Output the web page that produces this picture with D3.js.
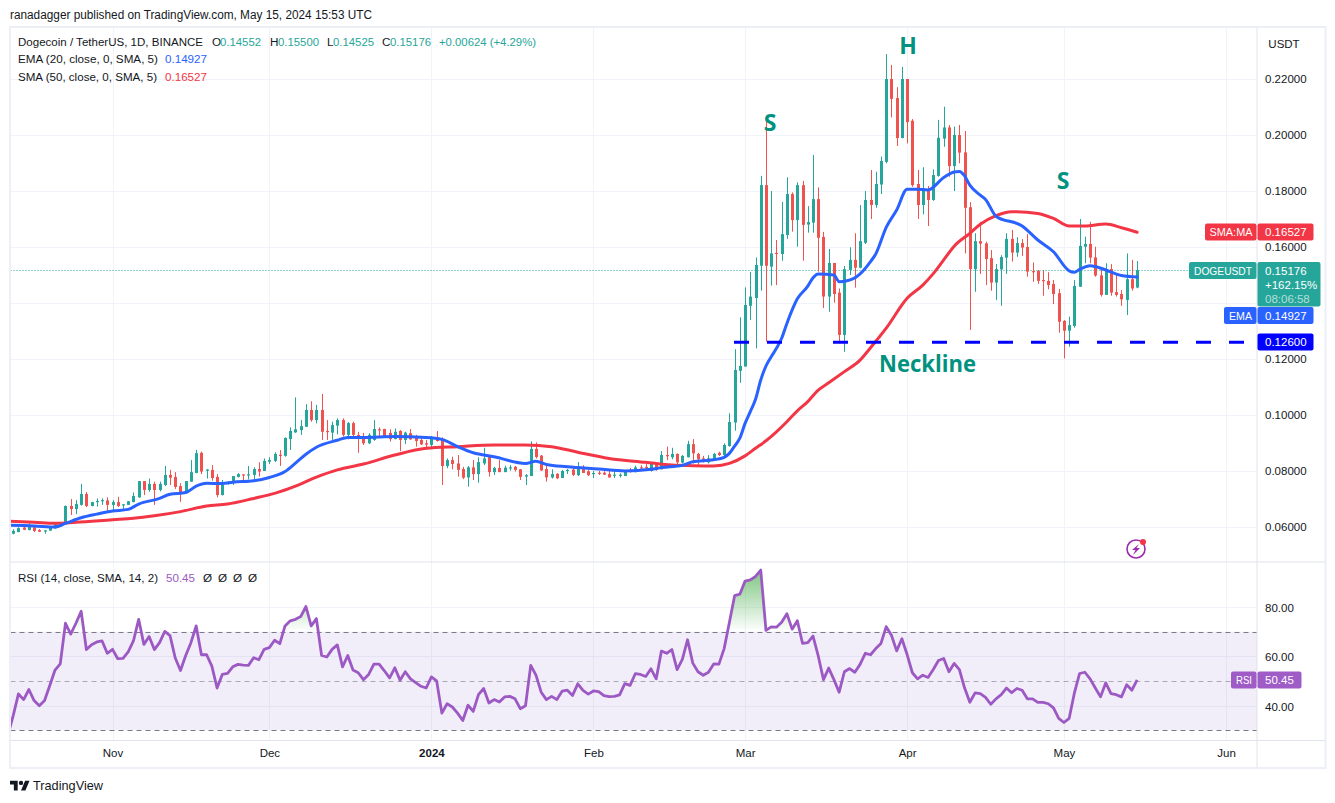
<!DOCTYPE html>
<html>
<head>
<meta charset="utf-8">
<script src="https://cdn.jsdelivr.net/npm/d3@7/dist/d3.min.js"></script>
<style>
html,body{margin:0;padding:0;background:#fff;overflow:hidden}
svg{display:block}
text{font-family:"Liberation Sans",Arial,sans-serif}
</style>
</head>
<body>
<svg id="c" width="1335" height="803"></svg>
<script>
const firstDay = "2023-10-13";
const open = [.0576,.0582,.0598,.0589,.0599,.0589,.0587,.0587,.0595,.0601,.0615,.0675,.0664,.0679,.0718,.0675,.0690,.0694,.0695,.0679,.0689,.0679,.0679,.0689,.0706,.0764,.0732,.0754,.0732,.0750,.0786,.0779,.0746,.0723,.0762,.0793,.0865,.0802,.0804,.0779,.0714,.0754,.0761,.0779,.0788,.0786,.0786,.0807,.0800,.0833,.0836,.0858,.0854,.0914,.0938,.0946,.0958,.1018,.0982,.1018,.0943,.0937,.0962,.0982,.0929,.0971,.0929,
.0923,.0899,.0911,.0949,.0950,.0936,.0914,.0943,.0911,.0935,.0919,.0911,.0899,.0893,.0920,.0911,.0818,.0839,.0827,.0807,.0777,.0813,.0789,.0827,.0851,.0796,.0811,.0796,.0811,.0815,.0806,.0780,.0782,.0879,.0855,.0807,.0777,.0790,.0775,.0801,.0805,.0785,.0812,.0799,.0789,.0794,.0794,.0789,.0785,.0785,.0782,.0804,.0796,.0813,.0815,.0800,.0824,.0806,.0857,.0849,.0861,.0830,.0849,.0896,.0861,.0845,.0831,.0842,.0865,.0857,.0889,
.0973,.1158,.1173,.1390,.1418,.1533,.1821,.1530,.1579,.1575,.1643,.1789,.1696,.1821,.1680,.1687,.1771,.1636,.1423,.1543,.1437,.1286,.1518,.1554,.1526,.1615,.1768,.1750,.1823,.1904,.2200,.2132,.1989,.2200,.2051,.1825,.1750,.1804,.1768,.1854,.1987,.2027,.1889,.2000,.1938,.1742,.1521,.1621,.1613,.1560,.1473,.1520,.1562,.1629,.1580,.1614,.1600,.1514,.1514,.1482,.1479,.1468,.1435,.1336,.1301,.1318,.1458,.1601,.1611,.1563,.1499,.1429,.1521,.1439,.1432,.1411,.1485,.14552];
const high = [.0592,.0599,.0601,.0618,.0604,.0593,.0589,.0601,.0613,.0615,.0677,.0700,.0696,.0754,.0725,.0690,.0702,.0702,.0706,.0696,.0708,.0682,.0693,.0723,.0764,.0764,.0773,.0762,.0762,.0818,.0804,.0796,.0756,.0764,.0839,.0875,.0869,.0807,.0821,.0789,.0768,.0762,.0782,.0792,.0788,.0818,.0813,.0831,.0845,.0849,.0867,.0875,.0920,.0956,.1063,.0982,.1039,.1049,.1036,.1075,.0982,.0976,.0988,.0988,.0975,.0976,.0940,
.0936,.0935,.0982,.0956,.0951,.0949,.0952,.0946,.0940,.0950,.0929,.0917,.0911,.0925,.0943,.0920,.0845,.0851,.0857,.0815,.0818,.0839,.0849,.0883,.0854,.0815,.0839,.0819,.0821,.0818,.0807,.0789,.0906,.0902,.0857,.0818,.0806,.0792,.0804,.0807,.0812,.0832,.0821,.0804,.0800,.0800,.0799,.0800,.0804,.0792,.0804,.0811,.0819,.0821,.0835,.0830,.0827,.0871,.0887,.0883,.0863,.0857,.0908,.0914,.0865,.0854,.0857,.0865,.0869,.0899,.1006,
.1235,.1349,.1456,.1511,.1563,.1854,.2065,.1800,.1625,.1761,.1849,.1795,.1831,.1836,.1746,.1929,.1813,.1654,.1593,.1543,.1452,.1532,.1599,.1649,.1750,.1800,.1875,.1869,.1923,.2289,.2250,.2171,.2243,.2200,.2057,.1875,.1885,.1818,.1877,.2054,.2101,.2036,.2030,.2036,.2014,.1760,.1649,.1690,.1619,.1589,.1539,.1571,.1649,.1661,.1635,.1628,.1646,.1545,.1518,.1518,.1510,.1482,.1450,.1339,.1351,.1482,.1700,.1637,.1690,.1601,.1524,.1542,.1539,.1506,.1446,.1577,.1554,.1550];
const low = [.0574,.0581,.0589,.0588,.0582,.0582,.0576,.0586,.0594,.0600,.0613,.0643,.0646,.0677,.0671,.0674,.0673,.0679,.0658,.0655,.0671,.0663,.0679,.0688,.0704,.0714,.0726,.0679,.0727,.0746,.0750,.0736,.0690,.0720,.0761,.0792,.0789,.0773,.0765,.0706,.0713,.0751,.0750,.0777,.0758,.0770,.0768,.0780,.0800,.0825,.0832,.0818,.0851,.0875,.0936,.0929,.0957,.0976,.0970,.0911,.0911,.0911,.0931,.0923,.0913,.0923,.0865,
.0893,.0896,.0908,.0923,.0920,.0905,.0913,.0871,.0896,.0911,.0887,.0893,.0877,.0881,.0905,.0750,.0810,.0806,.0780,.0771,.0744,.0768,.0758,.0821,.0780,.0786,.0796,.0796,.0801,.0798,.0768,.0750,.0782,.0845,.0800,.0762,.0773,.0771,.0775,.0789,.0782,.0782,.0793,.0782,.0775,.0786,.0786,.0777,.0775,.0777,.0782,.0794,.0795,.0801,.0804,.0798,.0801,.0806,.0839,.0842,.0821,.0827,.0849,.0827,.0821,.0830,.0827,.0837,.0854,.0851,.0887,
.0944,.1115,.1173,.1339,.1238,.1444,.1262,.1462,.1464,.1551,.1629,.1655,.1601,.1551,.1651,.1651,.1512,.1382,.1369,.1401,.1256,.1226,.1500,.1455,.1524,.1611,.1700,.1740,.1789,.1899,.2063,.1961,.1989,.1970,.1815,.1700,.1717,.1675,.1765,.1851,.1958,.1851,.1800,.1899,.1577,.1304,.1440,.1504,.1464,.1444,.1411,.1390,.1504,.1548,.1565,.1568,.1494,.1476,.1468,.1426,.1449,.1396,.1294,.1202,.1244,.1312,.1458,.1542,.1542,.1494,.1423,.1429,.1426,.1423,.1390,.1357,.1444,.14525];
const close = [.0586,.0596,.0590,.0604,.0586,.0583,.0588,.0600,.0610,.0613,.0675,.0664,.0682,.0718,.0675,.0689,.0693,.0696,.0679,.0689,.0675,.0681,.0692,.0711,.0764,.0732,.0754,.0732,.0754,.0786,.0776,.0743,.0720,.0764,.0796,.0864,.0798,.0805,.0775,.0714,.0750,.0761,.0782,.0789,.0787,.0788,.0807,.0798,.0836,.0839,.0861,.0854,.0918,.0943,.0949,.0960,.1018,.0982,.1018,.0940,.0940,.0964,.0982,.0929,.0971,.0929,.0917,
.0899,.0929,.0950,.0946,.0925,.0914,.0940,.0911,.0937,.0913,.0907,.0895,.0894,.0920,.0907,.0818,.0839,.0825,.0804,.0776,.0813,.0789,.0832,.0845,.0796,.0811,.0796,.0812,.0813,.0804,.0779,.0785,.0879,.0850,.0802,.0777,.0789,.0774,.0800,.0804,.0786,.0815,.0793,.0785,.0793,.0792,.0787,.0777,.0787,.0787,.0801,.0801,.0813,.0810,.0812,.0825,.0804,.0857,.0855,.0861,.0831,.0854,.0896,.0863,.0842,.0833,.0845,.0861,.0857,.0893,.0975,
.1161,.1175,.1393,.1423,.1536,.1821,.1533,.1577,.1576,.1646,.1789,.1696,.1821,.1679,.1689,.1771,.1633,.1423,.1543,.1432,.1286,.1521,.1554,.1526,.1621,.1768,.1750,.1825,.1907,.2200,.2129,.1989,.2200,.2046,.1821,.1750,.1804,.1768,.1857,.1990,.2027,.1889,.2000,.1937,.1740,.1521,.1621,.1612,.1557,.1473,.1521,.1564,.1629,.1580,.1614,.1598,.1512,.1512,.1479,.1480,.1464,.1432,.1333,.1301,.1321,.1461,.1604,.1611,.1562,.1498,.1429,.1521,.1437,.1429,.1413,.1485,.1452,.15176];

const emaDay = [-1,4,8,10,13,16,19,22,24,28,30,33,35,37,40,42,46,49,52,54,56,58,62,64,67,73,79,82,85,88,92,98,100,102,106,112,117,122,124,128,130,134,136,137,138,139,140,141,142,143,144,145,146,147,148,150,152,153,154,157,158,161,162,164,165,167,169,171,173,175,178,180,181,182,183,185,186,188,193,196,199,202,203,204,206,209,212,215];
const emaValue = [.0606,.0604,.0600,.0613,.0633,.0646,.0657,.0663,.0682,.0702,.0717,.0723,.0746,.0756,.0755,.0760,.0765,.0777,.0798,.0828,.0860,.0885,.0910,.0920,.0920,.0923,.0920,.0913,.0887,.0865,.0851,.0827,.0835,.0823,.0815,.0807,.0800,.0806,.0812,.0820,.0833,.0840,.0849,.0863,.0889,.0917,.0970,.1012,.1056,.1125,.1175,.1208,.1238,.1274,.1327,.1415,.1460,.1490,.1504,.1500,.1476,.1490,.1504,.1548,.1575,.1670,.1732,.1806,.1806,.1804,.1848,.1868,.1870,.1854,.1821,.1785,.1770,.1710,.1675,.1625,.1583,.1515,.1510,.1520,.1533,.1518,.1498,.14927];
const smaDay = [-1,4,8,12,19,23,27,32,37,41,46,50,54,58,62,67,73,79,85,92,98,103,108,114,121,126,130,134,137,140,142,144,146,148,150,152,154,156,159,162,164,167,171,174,176,178,180,183,185,188,191,196,199,202,205,209,212,215];
const smaValue = [.0621,.0617,.0613,.0617,.0626,.0631,.0640,.0655,.0675,.0682,.0702,.0720,.0746,.0778,.0804,.0825,.0857,.0881,.0887,.0893,.0893,.0887,.0867,.0845,.0831,.0821,.0819,.0818,.0827,.0854,.0881,.0908,.0940,.0976,.1015,.1048,.1089,.1115,.1155,.1196,.1240,.1310,.1417,.1464,.1505,.1554,.1603,.1649,.1681,.1712,.1726,.1720,.1702,.1675,.1675,.1682,.1669,.16527];
const rsiFirstDay = -1;
const rsiValue = [28.1,35.9,44.7,42.4,46.5,42,39.9,42,48.1,54.4,56.9,73.4,69,73.4,78.3,62.7,64.7,65.8,66.2,61.2,62.8,59,59.1,61.8,66.2,75,64.8,68,62.7,65.5,70.1,68.4,59.3,54.2,60.3,65.5,72.3,60.6,60.6,56,47.1,52.6,53,55.7,56.7,56.4,56.3,59.4,58.6,62.8,63.5,66.5,65.1,72.3,74.4,75,76.1,80.2,72.3,75.3,60.3,59.7,62.8,64.6,55.7,60.3,54.4,53.3,50.5,52.6,56.8,56.8,54.1,51.2,55.3,50.3,53.7,50.8,49.3,47.8,47.1,51.6,50,36.9,40.7,39.4,36.9,33.9,40.1,37.6,44.4,46.9,41,42.4,41.4,43.5,43.7,42.7,38.7,39.9,56.3,52.3,45.4,42.4,43.7,42.4,45.8,46.2,44.1,48.8,46.1,44.6,45.9,45.6,44,43.6,43.7,44.3,48.9,48.2,52.9,52.6,51.8,54.9,50.8,62.1,61.2,62.7,54.6,58.7,66.7,57.2,53.7,52.3,53.5,56.9,56.8,63.1,73.7,84.6,85.2,90.5,91,92.4,95,70.5,71.9,71.8,73.8,77.3,71,74.4,65.2,65.5,68.2,60.1,50.5,55.2,50.5,45.4,53.7,55,53.5,56.7,61.2,60.6,63.1,65.2,72,68.5,62.2,67.1,60.7,53.3,50.8,52.3,51.4,54.6,58.3,59.1,53.7,57.1,54.6,47.1,41.3,45.1,44.8,43.3,40.5,42.7,44.4,47.1,45.2,46.9,46.2,42.7,42.7,41.3,41.3,40.7,39,34.8,33.1,34.8,45.1,53,53.5,50.8,47.1,43.5,49.2,44.8,44.4,43.5,48.4,46.2,50.45];

const priceGrid = [.06,.08,.10,.12,.14,.16,.18,.20,.22];
const priceLabels = [.06,.08,.10,.12,.16,.18,.20,.22];
const rsiTicks = [40,60,80];
const rsiLevels = [70,50,30];
const timeTicks = ["2023-11-01","2023-12-01","2024-01-01","2024-02-01","2024-03-01","2024-04-01","2024-05-01","2024-06-01"];
const timeLabels = ["Nov","Dec","2024","Feb","Mar","Apr","May","Jun"];
const neckline = 0.126;
const lastPrice = 0.15176, lastEma = 0.14927, lastSma = 0.16527, lastRsi = 50.45;

const svg = d3.select("#c");
const L = 10.5, R = 1257, T = 27.5, M = 562, RB = 740.5, B = 767.5, OUT = 1325;
const start = new Date(firstDay + "T00:00:00Z");
const dayDate = i => d3.utcDay.offset(start, i);
const x = d3.scaleUtc().domain([start, new Date("2024-06-01T00:00:00Z")]).range([13.2, 1226]);
const y = d3.scaleLinear().domain([.06, .22]).range([527, 79]);
const yr = d3.scaleLinear().domain([40, 80]).range([705.5, 607]);

const defs = svg.append("defs");
defs.append("clipPath").attr("id", "pane").append("rect").attr("x", L).attr("y", T).attr("width", R - L).attr("height", M - T);
defs.append("clipPath").attr("id", "rpane").append("rect").attr("x", L).attr("y", M).attr("width", R - L).attr("height", RB - M);
defs.append("clipPath").attr("id", "above70").append("rect").attr("x", L).attr("y", M).attr("width", R - L).attr("height", yr(70) - M);
const g = defs.append("linearGradient").attr("id", "ob").attr("gradientUnits", "userSpaceOnUse")
  .attr("x1", 0).attr("x2", 0).attr("y1", yr(96)).attr("y2", yr(70));
g.append("stop").attr("offset", 0).attr("stop-color", "#4caf50").attr("stop-opacity", .75);
g.append("stop").attr("offset", 1).attr("stop-color", "#4caf50").attr("stop-opacity", 0);

const gridC = "#f0f3fa", frameC = "#e0e3eb";
const grid = svg.append("g");
grid.selectAll(".v").data(timeTicks).join("line")
  .attr("x1", d => Math.round(x(new Date(d + "T00:00:00Z"))) + .5).attr("x2", d => Math.round(x(new Date(d + "T00:00:00Z"))) + .5)
  .attr("y1", T).attr("y2", RB).attr("stroke", gridC);
grid.selectAll(".h").data(priceGrid).join("line")
  .attr("x1", L).attr("x2", R).attr("y1", d => Math.round(y(d)) + .5).attr("y2", d => Math.round(y(d)) + .5).attr("stroke", gridC);
grid.selectAll(".hr").data(rsiTicks).join("line")
  .attr("x1", L).attr("x2", R).attr("y1", d => Math.round(yr(d)) + .5).attr("y2", d => Math.round(yr(d)) + .5).attr("stroke", gridC);

svg.append("rect").attr("x", L).attr("width", R - L).attr("y", yr(70)).attr("height", yr(30) - yr(70)).attr("fill", "#7e57c2").attr("fill-opacity", .1);
svg.selectAll(".lvl").data(rsiLevels).join("line")
  .attr("x1", L).attr("x2", R).attr("y1", d => Math.round(yr(d)) + .5).attr("y2", d => Math.round(yr(d)) + .5)
  .attr("stroke", "#787b86").attr("stroke-opacity", d => d === 50 ? .6 : 1).attr("stroke-dasharray", "5 4");

svg.append("line").attr("x1", L).attr("x2", 1189).attr("y1", Math.round(y(lastPrice)) + .5).attr("y2", Math.round(y(lastPrice)) + .5)
  .attr("stroke", "#26a69a").attr("stroke-dasharray", "1 2");

const candles = svg.append("g").attr("clip-path", "url(#pane)");
const idx = d3.range(open.length);
const col = i => close[i] >= open[i] ? "#26a69a" : "#ef5350";
candles.selectAll(".w").data(idx).join("rect")
  .attr("x", i => Math.round(x(dayDate(i)))).attr("width", 1)
  .attr("y", i => y(high[i])).attr("height", i => y(low[i]) - y(high[i])).attr("fill", col);
candles.selectAll(".b").data(idx).join("rect")
  .attr("x", i => Math.round(x(dayDate(i))) - 1).attr("width", 3)
  .attr("y", i => y(Math.max(open[i], close[i])))
  .attr("height", i => Math.max(1.2, Math.abs(y(open[i]) - y(close[i])))).attr("fill", col);

const lineOf = (days, vals) => d3.line().x((d, k) => x(dayDate(days[k]))).y(d => y(d)).curve(d3.curveMonotoneX)(vals);
const ma = svg.append("g").attr("clip-path", "url(#pane)").attr("fill", "none").attr("stroke-width", 3).attr("stroke-linejoin", "round").attr("stroke-linecap", "round");
ma.append("path").attr("d", lineOf(smaDay, smaValue)).attr("stroke", "#f23645");
ma.append("path").attr("d", lineOf(emaDay, emaValue)).attr("stroke", "#2962ff");

svg.append("line").attr("x1", 734).attr("x2", R).attr("y1", y(neckline)).attr("y2", y(neckline))
  .attr("stroke", "#0000ff").attr("stroke-width", 3).attr("stroke-dasharray", "15 18");

const noteC = "#00927f";
const notes = [["S", 770, 131, null], ["H", 908, 54, null], ["S", 1063, 189, null], ["Neckline", 927.5, 372, 97]];
svg.selectAll(".note").data(notes).join("text").text(d => d[0]).attr("x", d => d[1]).attr("y", d => d[2])
  .attr("text-anchor", "middle").attr("fill", noteC)
  .each(function (d) { if (d[3]) d3.select(this).attr("textLength", d[3]).attr("lengthAdjust", "spacingAndGlyphs"); })
  .style("font-family", '"Open Sans",sans-serif').style("font-size", "23px").style("font-weight", 700);

const rsiX = (d, k) => x(dayDate(rsiFirstDay + k));
svg.append("path").attr("clip-path", "url(#above70)").attr("fill", "url(#ob)")
  .attr("d", d3.area().x(rsiX).y1(d => yr(d)).y0(yr(70))(rsiValue));
svg.append("path").attr("clip-path", "url(#rpane)").attr("fill", "none").attr("stroke", "#9c59c4").attr("stroke-width", 2.8).attr("stroke-linejoin", "round")
  .attr("d", d3.line().x(rsiX).y(d => yr(d))(rsiValue));

const frame = svg.append("g").attr("fill", "none").attr("stroke", frameC);
frame.append("rect").attr("x", L - .5).attr("y", T - .5).attr("width", OUT - L + 1).attr("height", B - T + 1).attr("stroke", "#eceff5").attr("stroke-width", 2);
[[L, OUT, M, M], [L, OUT, RB, RB], [R, R, T, B]].forEach(a => frame.append("line").attr("x1", a[0]).attr("x2", a[1]).attr("y1", a[2]).attr("y2", a[3]));

const axisStyle = (s) => {
  s.select(".domain").remove();
  s.selectAll(".tick line").remove();
  s.selectAll("text").attr("fill", "#131722").style("font-size", "11.5px").style("font-family", '"Liberation Sans",sans-serif');
};
svg.append("g").attr("transform", `translate(${R + 8},0)`)
  .call(d3.axisRight(y).tickValues(priceLabels).tickFormat(d3.format(".5f")).tickSize(0).tickPadding(0)).call(axisStyle);
svg.append("g").attr("transform", `translate(${R + 8},1)`)
  .call(d3.axisRight(yr).tickValues(rsiTicks).tickFormat(d3.format(".2f")).tickSize(0).tickPadding(0)).call(axisStyle);
svg.append("g").attr("transform", `translate(0,${RB + 8})`)
  .call(d3.axisBottom(x).tickValues(timeTicks.map(d => new Date(d + "T00:00:00Z"))).tickFormat((d, i) => timeLabels[i]).tickSize(0).tickPadding(0)).call(axisStyle)
  .selectAll("text").style("font-weight", (d, i) => timeLabels[i] === "2024" ? 700 : 400);

svg.append("text").text("USDT").attr("x", 1284).attr("y", 48).attr("text-anchor", "middle").attr("fill", "#131722").style("font-size", "11.5px");

function labelTag(label, lx, ytop, color, len) {
  svg.append("rect").attr("x", lx).attr("y", ytop).attr("width", R - lx - .5).attr("height", 17).attr("rx", 2).attr("fill", color);
  svg.append("text").text(label).attr("x", (lx + R) / 2).attr("y", ytop + 12.6).attr("text-anchor", "middle").attr("fill", "#fff")
    .attr("textLength", len).attr("lengthAdjust", "spacingAndGlyphs").style("font-size", "11.5px");
}
function valueTag(ytop, vw, color, value) {
  svg.append("rect").attr("x", R + .5).attr("y", ytop).attr("width", vw).attr("height", 17).attr("rx", 2).attr("fill", color);
  svg.append("text").text(value).attr("x", R + 8).attr("y", ytop + 12.6).attr("fill", "#fff").style("font-size", "11.5px");
}
const f5 = d3.format(".5f");
labelTag("SMA:MA", 1205, Math.round(y(lastSma)) - 8.5, "#f23645", 43);
valueTag(Math.round(y(lastSma)) - 8.5, 56, "#f23645", f5(lastSma));
labelTag("EMA", 1224, 307, "#2962ff", 23);
valueTag(307, 56, "#2962ff", f5(lastEma));
valueTag(Math.round(y(neckline)) - 8.5, 56, "#0000ff", f5(neckline));
labelTag("DOGEUSDT", 1189, 262, "#26a69a", 58);
svg.append("rect").attr("x", R + .5).attr("y", 262).attr("width", 63).attr("height", 44.5).attr("rx", 2).attr("fill", "#26a69a");
[[f5(lastPrice), 274.5, 1], ["+162.15%", 289, 1], ["08:06:58", 303, .65]].forEach(t =>
  svg.append("text").text(t[0]).attr("x", R + 8).attr("y", t[1]).attr("fill", "#fff").attr("fill-opacity", t[2]).style("font-size", "11.5px"));
labelTag("RSI", 1231, Math.round(yr(lastRsi)) - 8.5, "#a05cc6", 16);
valueTag(Math.round(yr(lastRsi)) - 8.5, 44, "#a05cc6", d3.format(".2f")(lastRsi));

const lg = (parts, yy) => parts.forEach(p => {
  const t = svg.append("text").attr("x", p[0]).attr("y", yy).attr("fill", p[2] || "#131722").style("font-size", "11.7px").text(p[1]);
  if (p[3]) t.attr("textLength", p[3]).attr("lengthAdjust", "spacingAndGlyphs");
});
const up = "#26a69a";
lg([[18, "Dogecoin / TetherUS, 1D, BINANCE", null, 185], [212, "O"], [220, "0.14552", up, 41], [270, "H"], [278, "0.15500", up, 41], [327, "L"], [333, "0.14525", up, 41], [382, "C"], [390, "0.15176", up, 41], [439, "+0.00624 (+4.29%)", up, 97]], 46);
lg([[18, "EMA (20, close, 0, SMA, 5)", null, 140], [165, "0.14927", "#2962ff", 42]], 63);
lg([[18, "SMA (50, close, 0, SMA, 5)", null, 139], [165, "0.16527", "#f23645", 42]], 81);
lg([[18, "RSI (14, close, SMA, 14, 2)", null, 140], [166, "50.45", "#9c59c4", 29], [203, "Ø"], [218, "Ø"], [233, "Ø"], [248, "Ø"]], 582);

svg.append("text").text("ranadagger published on TradingView.com, May 15, 2024 15:53 UTC").attr("x", 10).attr("y", 19).attr("fill", "#131722")
  .attr("textLength", 362).attr("lengthAdjust", "spacingAndGlyphs").style("font-size", "12px");
svg.append("path").attr("transform", "translate(10,778.5) scale(.55)").attr("fill", "#131722")
  .attr("d", "M14 22H7V11H0V4h14v18zM28 22h-8l7.5-18h8L28 22z");
svg.append("circle").attr("transform", "translate(10,778.5) scale(.55)").attr("cx", 20).attr("cy", 8).attr("r", 4).attr("fill", "#131722");
svg.append("text").text("TradingView").attr("x", 33).attr("y", 790).attr("fill", "#131722")
  .attr("textLength", 70).attr("lengthAdjust", "spacingAndGlyphs").style("font-size", "13.5px");

const ic = svg.append("g").attr("transform", "translate(1136,549)");
ic.append("circle").attr("r", 9).attr("fill", "none").attr("stroke", "#9c27b0").attr("stroke-width", 1.6);
ic.append("path").attr("d", "M3 -5 L-4 1 L-.5 1 L-3 6 L4 -1 L.5 -1 Z").attr("fill", "#9c27b0");
ic.append("circle").attr("cx", 7).attr("cy", -7).attr("r", 3).attr("fill", "#f23645");
</script>
</body>
</html>
